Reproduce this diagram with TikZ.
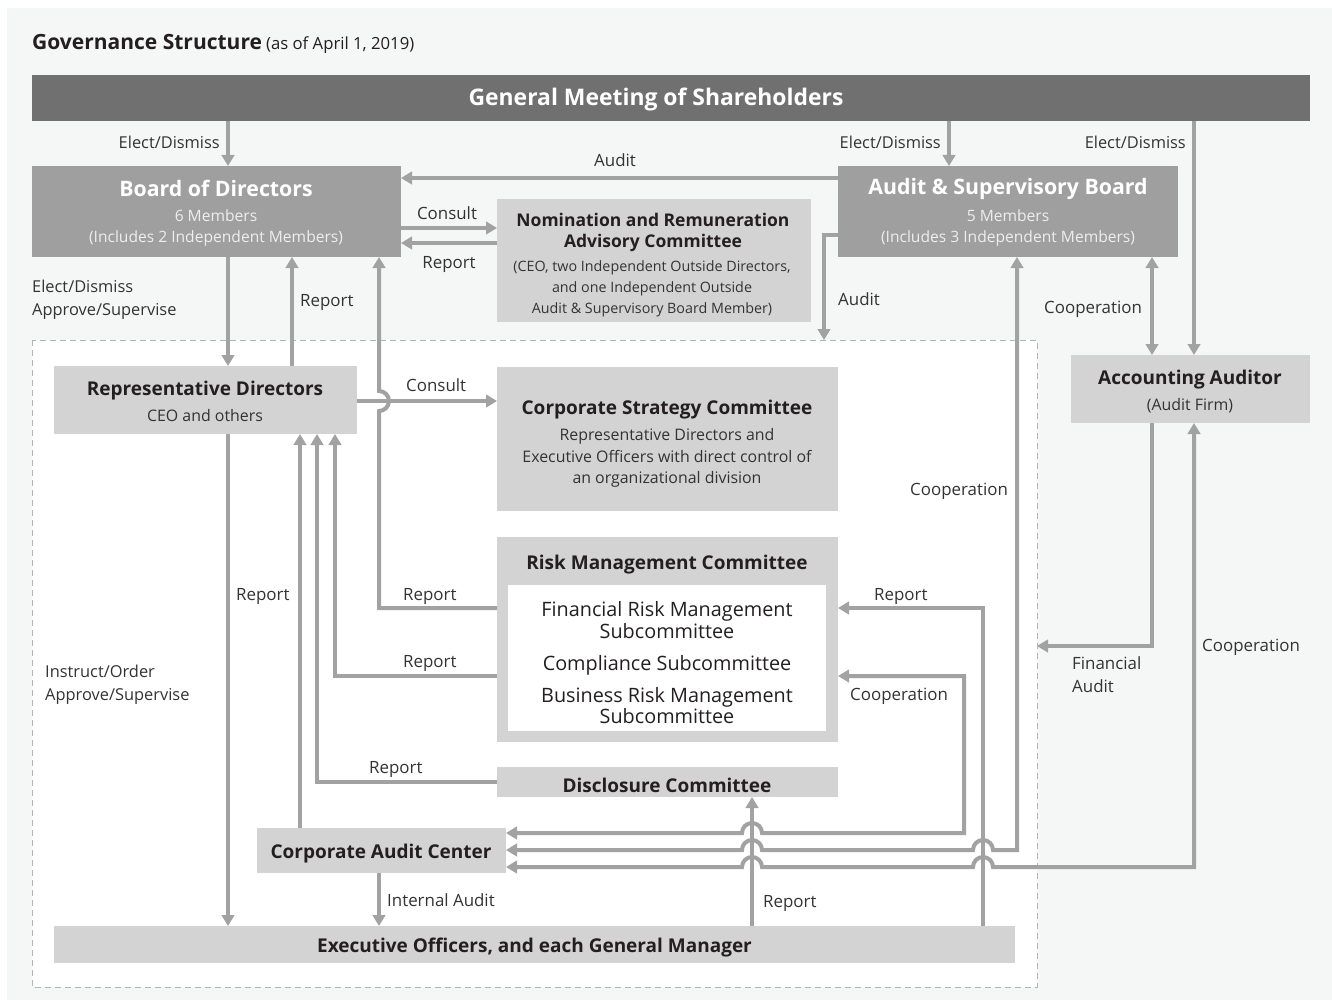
\documentclass[tikz,border=0pt]{standalone}
\usepackage{fontspec}
\setmainfont{Open Sans}
\usetikzlibrary{arrows.meta,calc}
\definecolor{panel}{HTML}{F5F6F6}
\definecolor{barc}{HTML}{707070}
\definecolor{midc}{HTML}{9F9F9F}
\definecolor{lightc}{HTML}{D3D3D3}
\definecolor{arrc}{HTML}{A2A2A2}
\definecolor{txtc}{HTML}{231F20}
\definecolor{labc}{HTML}{333333}
\definecolor{subw}{HTML}{EEEEEE}
\definecolor{dashc}{HTML}{B4B4B4}
\begin{document}
\begin{tikzpicture}[x=1pt,y=1pt,
  box/.style={anchor=north west,inner sep=0pt,outer sep=0pt,draw=none},
  lbox/.style={box,fill=lightc},
  mbox/.style={box,fill=midc},
  ttl/.style={inner sep=0pt,text=txtc,font=\fontsize{19}{22}\selectfont\bfseries,align=center},
  bigttl/.style={inner sep=0pt,text=white,font=\fontsize{21.3}{24}\selectfont\bfseries,align=center},
  subt/.style={inner sep=0pt,text=labc,font=\fontsize{15.9}{21.5}\selectfont,align=center},
  subw/.style={inner sep=0pt,text=subw,font=\fontsize{15.6}{21}\selectfont,align=center},
  lab/.style={inner sep=0pt,text=labc,font=\fontsize{16.9}{23}\selectfont,align=left},
  edlab/.style={lab,font=\fontsize{16.4}{23}\selectfont},
  arr/.style={draw=arrc,line width=4pt,-{Triangle[length=11pt,width=12.5pt]}},
  barr/.style={draw=arrc,line width=4pt,{Triangle[length=11pt,width=12.5pt]}-{Triangle[length=11pt,width=12.5pt]}}]
\useasboundingbox (0,0) rectangle (1332,-1000);
\fill[white] (0,0) rectangle (1332,-1000);
\fill[panel] (7,-8) rectangle (1332,-1000);
\draw[dashc,line width=1pt,dash pattern=on 6pt off 4pt,fill=white] (32,-340) rectangle (1037,-987);

% title
\node[inner sep=0pt,anchor=base west,text=txtc] (title) at (32,-50)
  {{\fontsize{21}{24}\selectfont\bfseries Governance Structure}\hspace{4pt}{\fontsize{16.7}{18}\selectfont(as of April 1, 2019)}};

% boxes
\node[box,fill=barc,minimum width=1278pt,minimum height=46pt] (gm) at (32,-75) {};
\node[inner sep=0pt,text=white,font=\fontsize{22.9}{26}\selectfont\bfseries] (gmT) at (656,-99.5) {General Meeting of Shareholders};

\node[mbox,minimum width=369pt,minimum height=91pt] (bod) at (32,-166) {};
\node[bigttl] (bodT) at (216,-188) {Board of Directors};
\node[subw] (bodS) at (216,-227.5) {6 Members\\(Includes 2 Independent Members)};

\node[mbox,minimum width=340pt,minimum height=91pt] (asb) at (838,-166) {};
\node[bigttl] (asbT) at (1008,-189) {Audit \& Supervisory Board};
\node[subw] (asbS) at (1008,-227.5) {5 Members\\(Includes 3 Independent Members)};

\node[lbox,minimum width=314pt,minimum height=123pt] (nom) at (497,-199) {};
\node[inner sep=0pt,text=txtc,font=\fontsize{17.5}{21}\selectfont\bfseries,align=center] (nomT) at (653,-232.5) {Nomination and Remuneration\\Advisory Committee};
\node[inner sep=0pt,text=labc,font=\fontsize{14.3}{21}\selectfont,align=center] (nomS) at (652,-289) {(CEO, two Independent Outside Directors,\\and one Independent Outside\\Audit \& Supervisory Board Member)};

\node[lbox,minimum width=303pt,minimum height=68pt] (rd) at (54,-366) {};
\node[ttl] (rdT) at (205,-391) {Representative Directors};
\node[subt] (rdS) at (205,-416) {CEO and others};

\node[lbox,minimum width=341pt,minimum height=144pt] (csc) at (497,-367) {};
\node[ttl] (cscT) at (667,-410) {Corporate Strategy Committee};
\node[subt] (cscS) at (667,-458) {Representative Directors and\\Executive Officers with direct control of\\an organizational division};

\node[lbox,minimum width=341pt,minimum height=205pt] (risk) at (497,-537) {};
\node[ttl] (riskT) at (667,-565) {Risk Management Committee};
\node[box,fill=white,minimum width=318pt,minimum height=146pt] (riskIn) at (508,-585) {};
\node[inner sep=0pt,text=txtc,font=\fontsize{19.8}{21.5}\selectfont,align=center] (sub1) at (667,-620) {Financial Risk Management\\Subcommittee};
\node[inner sep=0pt,text=txtc,font=\fontsize{19.8}{21.5}\selectfont,align=center] (sub2) at (667,-665) {Compliance Subcommittee};
\node[inner sep=0pt,text=txtc,font=\fontsize{19.8}{21.5}\selectfont,align=center] (sub3) at (667,-705.5) {Business Risk Management\\Subcommittee};

\node[lbox,minimum width=341pt,minimum height=30pt] (disc) at (497,-767) {};
\node[ttl] (discT) at (667,-785) {Disclosure Committee};

\node[lbox,minimum width=249pt,minimum height=45pt] (cac) at (257,-828) {};
\node[ttl] (cacT) at (381,-854) {Corporate Audit Center};

\node[lbox,minimum width=961pt,minimum height=37pt] (exec) at (54,-926) {};
\node[ttl] (execT) at (534.5,-948) {Executive Officers, and each General Manager};

\node[lbox,minimum width=239pt,minimum height=68pt] (aa) at (1071,-355) {};
\node[ttl] (aaT) at (1190,-380) {Accounting Auditor};
\node[subt] (aaS) at (1190,-406) {(Audit Firm)};

% column / row coordinates
\coordinate (c228) at (228,0);
\coordinate (c292) at (292,0);
\coordinate (c300) at (300,0);
\coordinate (c317) at (317,0);
\coordinate (c335) at (335,0);
\coordinate (c379) at (379,0);
\coordinate (c752) at (752,0);
\coordinate (c824) at (824,0);
\coordinate (c949) at (949,0);
\coordinate (c964) at (964,0);
\coordinate (c983) at (983,0);
\coordinate (c1017) at (1017,0);
\coordinate (c1152) at (1152,0);
\coordinate (c1194) at (1194,0);
\coordinate (r178) at (0,-178);
\coordinate (r228) at (0,-228);
\coordinate (r235) at (0,-235);
\coordinate (r243) at (0,-243);
\coordinate (r340) at (0,-340);
\coordinate (r401) at (0,-401);
\coordinate (r608) at (0,-608);
\coordinate (r646) at (0,-646);
\coordinate (r676) at (0,-676);
\coordinate (r782) at (0,-782);
\coordinate (r833) at (0,-833);
\coordinate (r850) at (0,-850);
\coordinate (r867) at (0,-867);
\coordinate (frameR) at (1037,0);
\coordinate (j1) at (379,-401);
\coordinate (k1) at (752,-833);
\coordinate (k2) at (752,-850);
\coordinate (k3) at (983,-850);
\coordinate (k4) at (752,-867);
\coordinate (k5) at (983,-867);

% connectors from shareholders
\draw[arr] (gm.south -| c228) -- (bod.north -| c228);
\draw[arr] (gm.south -| c949) -- (asb.north -| c949);
\draw[arr] (gm.south -| c1194) -- (aa.north -| c1194);
% audit etc
\draw[arr] (asb.west |- r178) -- (bod.east |- r178);
\draw[arr] (bod.east |- r228) -- (nom.west |- r228);
\draw[arr] (nom.west |- r243) -- (bod.east |- r243);
\draw[arr] (asb.west |- r235) -- (c824 |- r235) -- (c824 |- r340);
\draw[barr] (asb.south -| c1152) -- (aa.north -| c1152);
\draw[arr] (aa.south -| c1152) -- (c1152 |- r646) -- (frameR |- r646);
% board <-> rep
\draw[arr] (bod.south -| c228) -- (rd.north -| c228);
\draw[arr] (rd.north -| c292) -- (bod.south -| c292);
\draw[arr] (rd.south -| c228) -- (exec.north -| c228);
\draw[arr] (rd.east |- r401) -- (csc.west |- r401);
\draw[arr] (risk.west |- r608) -- (c379 |- r608) -- ($(j1)+(0,-10)$) arc[start angle=-90,end angle=90,radius=10pt] -- (bod.south -| c379);
\draw[arr] (risk.west |- r676) -- (c335 |- r676) -- (rd.south -| c335);
\draw[arr] (disc.west |- r782) -- (c317 |- r782) -- (rd.south -| c317);
\draw[arr] (cac.north -| c300) -- (rd.south -| c300);
\draw[arr] (cac.south -| c379) -- (exec.north -| c379);
% exec reports
\draw[arr] (exec.north -| c752) -- (disc.south -| c752);
\draw[arr] (exec.north -| c983) -- (c983 |- r608) -- (risk.east |- r608);
% cooperation lines
\draw[barr] (cac.east |- r833) -- ($(k1)+(-10,0)$) arc[start angle=180,end angle=0,radius=10pt] -- (c964 |- r833) -- (c964 |- r676) -- (risk.east |- r676);
\draw[barr] (cac.east |- r850) -- ($(k2)+(-10,0)$) arc[start angle=180,end angle=0,radius=10pt] -- ($(k3)+(-10,0)$) arc[start angle=180,end angle=0,radius=10pt] -- (c1017 |- r850) -- (asb.south -| c1017);
\draw[barr] (cac.east |- r867) -- ($(k4)+(-10,0)$) arc[start angle=180,end angle=0,radius=10pt] -- ($(k5)+(-10,0)$) arc[start angle=180,end angle=0,radius=10pt] -- (c1194 |- r867) -- (aa.south -| c1194);

% labels
\node[edlab,anchor=east] (l1) at (220,-142) {Elect/Dismiss};
\node[lab] (l2) at (615,-160) {Audit};
\node[lab] (l3) at (447,-213) {Consult};
\node[lab] (l4) at (449,-264) {Report};
\node[edlab,anchor=east] (l5) at (941,-142) {Elect/Dismiss};
\node[edlab,anchor=east] (l6) at (1186,-142) {Elect/Dismiss};
\node[edlab,anchor=west] (l7) at (32,-300) {Elect/Dismiss\\Approve/Supervise};
\node[lab,anchor=west] (l8) at (300,-302) {Report};
\node[lab,anchor=west] (l9) at (838,-299) {Audit};
\node[lab,anchor=west] (l10) at (1044,-309) {Cooperation};
\node[lab,anchor=west] (l11) at (406,-385) {Consult};
\node[lab,anchor=west] (l12) at (910,-491) {Cooperation};
\node[lab,anchor=west] (l13) at (236,-596) {Report};
\node[lab,anchor=west] (l14) at (403,-596) {Report};
\node[lab,anchor=west] (l15) at (874,-596) {Report};
\node[lab,anchor=west] (l16) at (403,-663) {Report};
\node[edlab,anchor=west] (l17) at (45,-684.5) {Instruct/Order\\Approve/Supervise};
\node[lab,anchor=west] (l18) at (1072,-674.5) {Financial\\Audit};
\node[lab,anchor=west] (l19) at (1202,-647) {Cooperation};
\node[lab,anchor=west] (l20) at (850,-696) {Cooperation};
\node[lab,anchor=west] (l21) at (369,-769) {Report};
\node[lab,anchor=west] (l22) at (387,-900) {Internal Audit};
\node[lab,anchor=west] (l23) at (763,-903) {Report};
\end{tikzpicture}
\end{document}
